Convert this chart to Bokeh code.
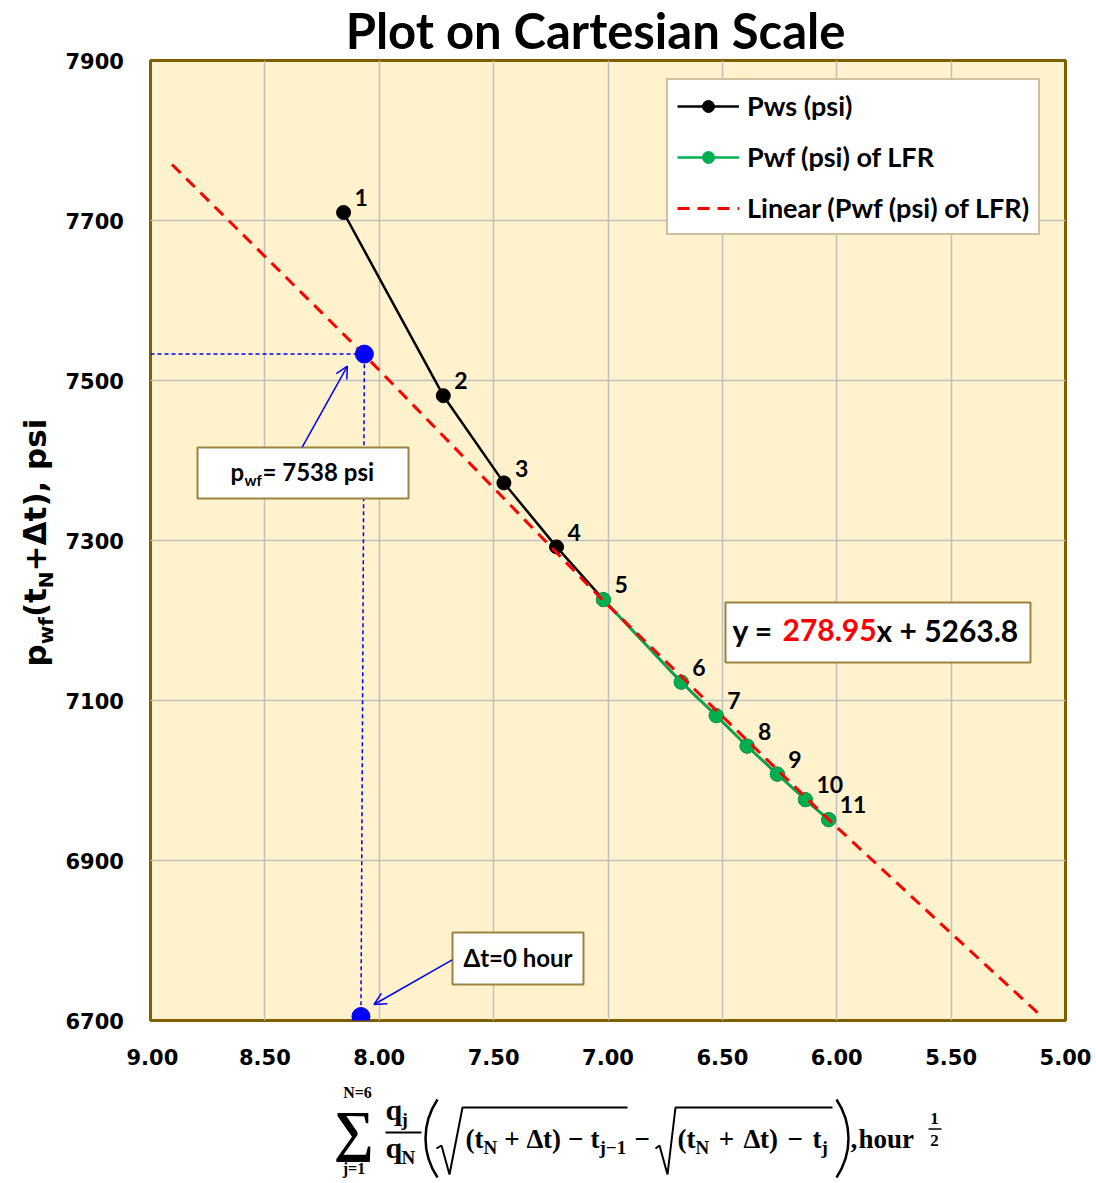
import math
from bokeh.plotting import figure
from bokeh.models import (Range1d, Legend, LegendItem, Label, Arrow, OpenHead,
                          FixedTicker, NumeralTickFormatter)
from bokeh.layouts import column, row
from bokeh.core.properties import value
from bokeh.embed import file_html
from bokeh.resources import INLINE

# ---------------- data ----------------
point_ids = ["1", "2", "3", "4", "5", "6", "7", "8", "9", "10", "11"]
pws_x = [8.156, 7.720, 7.455, 7.225, 7.020, 6.680, 6.527, 6.392, 6.260, 6.137, 6.035]
pws_y = [7710, 7481, 7372, 7292, 7226, 7123, 7081, 7043, 7008, 6976, 6951]
lfr_x = [7.020, 6.680, 6.527, 6.392, 6.260, 6.137, 6.035]
lfr_y = [7226, 7123, 7081, 7043, 7008, 6976, 6951]
trend_x = [8.906, 8.065, 7.025, 6.035, 5.500, 5.100]
trend_y = [7770, 7532, 7226, 6951, 6809, 6704]
marker_x = [8.065, 8.080]          # p_wf read-off point, dt = 0 point
marker_y = [7533, 6705]
x_ticks = [9.0, 8.5, 8.0, 7.5, 7.0, 6.5, 6.0, 5.5, 5.0]
y_ticks = [6700, 6900, 7100, 7300, 7500, 7700, 7900]
slope_txt = "278.95"
intercept_txt = "5263.8"
pwf_txt = "7538"

# ---------------- page geometry ----------------
PAGE_W = 1096
FL, FT, FW, FH = 150, 60, 915, 960           # frame position on the page (px)
LEFT_W = 124               # left strip: y-label + y tick labels
YF_FRAME_W = 58
TOP_H = FT - 1             # title strip height
MAIN_BOTTOM = 60
XL_TOP = FT + FH + MAIN_BOTTOM   # 1080
XL_H = 100
X0, X1, Y0, Y1 = 9.0, 5.0, 6700, 7900
K = 0.38                   # alphabetic-baseline correction (fraction of font size)
TITLE_DX = -28.5           # measured offset of the title strip


def dx(X):
    return X0 + (X - FL) / FW * (X1 - X0)


def dy(Y):
    return Y1 - (Y - FT) / FH * (Y1 - Y0)


def pxx(x):
    return FL + (x - X0) / (X1 - X0) * FW


def pxy(y):
    return FT + (Y1 - y) / (Y1 - Y0) * FH


GOLD = "#9C8440"
BLUE = "#0000FF"
GREEN = "#00B050"


def aux_fig(w, h):
    f = figure(frame_width=w, frame_height=h, x_range=Range1d(0, w),
               y_range=Range1d(0, h), min_border=0, toolbar_location=None,
               output_backend="svg", background_fill_color="white",
               border_fill_color="white", outline_line_color=None)
    f.axis.visible = False
    f.grid.visible = False
    return f


def style_axis(ax):
    ax.major_label_text_font = "DejaVu Sans"
    ax.major_label_text_font_style = "bold"
    ax.major_label_text_font_size = "21px"
    ax.major_label_text_color = "black"
    ax.major_tick_line_color = None
    ax.major_tick_out = 0
    ax.major_tick_in = 0
    ax.minor_tick_line_color = None
    ax.axis_line_color = None


# ---------------- main plot ----------------
p = figure(frame_width=FW, frame_height=FH,
           x_range=Range1d(X0, X1), y_range=Range1d(Y0, Y1),
           min_border_left=FL - LEFT_W - 2, min_border_right=PAGE_W - FL - FW + 2,
           min_border_top=FT - TOP_H, min_border_bottom=MAIN_BOTTOM,
           toolbar_location=None, output_backend="svg",
           background_fill_color="#FFF2CC", border_fill_color="white",
           outline_line_color="#7F6000", outline_line_width=3)

p.xaxis.ticker = FixedTicker(ticks=x_ticks)
p.xaxis.formatter = NumeralTickFormatter(format="0.00")
p.yaxis.visible = False
p.xgrid.ticker = FixedTicker(ticks=x_ticks)
p.ygrid.ticker = FixedTicker(ticks=y_ticks)
p.grid.grid_line_color = "#BFBFBF"
p.grid.grid_line_width = 1.5
style_axis(p.xaxis[0])
p.xaxis.major_label_standoff = 28

# series
l_pws = p.line(pws_x, pws_y, line_color="black", line_width=2.5)
l_lfr = p.line(lfr_x, lfr_y, line_color=GREEN, line_width=2.5)
d_pws = p.scatter(pws_x, pws_y, size=14, color="black")
d_lfr = p.scatter(lfr_x, lfr_y, size=14, color=GREEN)
l_tr = p.line(trend_x, trend_y, line_color="#FF0000", line_width=3, line_dash="12 8")

p.text(pws_x, pws_y, text=point_ids, x_offset=11, y_offset=-6 - K * 23,
       text_font=value("Lato"), text_font_style="bold", text_font_size="23px",
       text_baseline="alphabetic", text_align="left", text_color="black")

# blue read-off lines and points
p.line([X0, marker_x[0], marker_x[1]], [marker_y[0], marker_y[0], marker_y[1]],
       line_color=BLUE, line_width=1.5, line_dash="4 3")
p.scatter(marker_x, marker_y, size=18, color=BLUE)

# callout boxes
p.quad(left=[dx(197), dx(452), dx(725)], right=[dx(408), dx(583), dx(1030)],
       top=[dy(447), dy(932), dy(602)], bottom=[dy(498), dy(984), dy(662)],
       fill_color="white", line_color=GOLD, line_width=2)


def mlabel(X, Y, s, size, color="black", align="left"):
    p.add_layout(Label(x=dx(X), y=dy(Y - K * size), text=s, text_font="Lato",
                       text_font_style="bold", text_font_size=f"{size}px",
                       text_color=color, text_align=align,
                       text_baseline="alphabetic"))


mlabel(230, 480, "p", 24)
mlabel(244, 485, "wf", 15)
mlabel(262, 480, "= " + pwf_txt + " psi", 24)
mlabel(517.5, 966, "\u0394t=0 hour", 24, align="center")
mlabel(732, 641, "y = ", 30)
mlabel(782, 641, slope_txt, 30, color="#FF0000")
mlabel(876, 641, "x + " + intercept_txt, 30)

# arrows
ax0, ay0 = pxx(marker_x[0]), pxy(marker_y[0])
bx0, by0 = pxx(marker_x[1]), pxy(marker_y[1])
p.add_layout(Arrow(x_start=dx(301.7), y_start=dy(446.7),
                   x_end=dx(ax0 - 17), y_end=dy(ay0 + 12),
                   line_color=BLUE, line_width=1.5,
                   end=OpenHead(size=12, line_color=BLUE, line_width=1.5)))
p.add_layout(Arrow(x_start=dx(451.7), y_start=dy(959.3),
                   x_end=dx(bx0 + 13), y_end=dy(by0 - 12),
                   line_color=BLUE, line_width=1.5,
                   end=OpenHead(size=12, line_color=BLUE, line_width=1.5)))

legend = Legend(items=[LegendItem(label="Pws (psi)", renderers=[l_pws, d_pws]),
                       LegendItem(label="Pwf (psi) of LFR", renderers=[l_lfr, d_lfr]),
                       LegendItem(label="Linear (Pwf (psi) of LFR)", renderers=[l_tr])],
                location=(516, 785), margin=0, padding=9, spacing=18,
                glyph_width=62, glyph_height=30, label_height=30,
                label_standoff=8,
                label_text_font="Lato", label_text_font_style="bold",
                label_text_font_size="27px", label_text_color="black",
                border_line_color=GOLD, border_line_width=2,
                background_fill_color="white", background_fill_alpha=1.0)
p.add_layout(legend)

# ---------------- title strip ----------------
TW = PAGE_W - LEFT_W
tf = aux_fig(TW, TOP_H)
tf.text(x=[597.5 - LEFT_W + TITLE_DX], y=[TOP_H - (48.5 - K * 49)],
        text=["Plot on Cartesian Scale"],
        text_font=value("Lato"), text_font_style="bold", text_font_size="49px",
        text_align="center", text_baseline="alphabetic", text_color="black")

# ---------------- left strip: y tick labels + y-axis label ----------------
yf = figure(frame_width=YF_FRAME_W, frame_height=FH,
            x_range=Range1d(0, YF_FRAME_W), y_range=p.y_range,
            y_axis_location="right",
            min_border_left=0, min_border_top=FT, min_border_bottom=MAIN_BOTTOM,
            min_border_right=LEFT_W - YF_FRAME_W,
            toolbar_location=None, output_backend="svg",
            background_fill_color="white", border_fill_color="white",
            outline_line_color=None)
yf.xaxis.visible = False
yf.grid.visible = False
yf.yaxis.ticker = FixedTicker(ticks=y_ticks)
yf.yaxis.formatter = NumeralTickFormatter(format="0")
style_axis(yf.yaxis[0])
yf.yaxis.major_label_standoff = 7

DJB = {"p": .716, "w": .924, "f": .435, "(": .457, ")": .457, "t": .478,
       "N": .837, "+": .838, "\u0394": .774, ",": .380, " ": .348, "s": .595,
       "i": .343}
ypieces = [("p", 31, 0), ("wf", 20, 7), ("(t", 31, 0), ("N", 20, 7),
           ("+\u0394t), psi", 31, 0)]
Ycur = 666
for s, size, shift in ypieces:
    yf.text(x=[46 + shift - K * size], y=[dy(Ycur)], text=[s],
            angle=math.pi / 2,
            text_font=value("DejaVu Sans"), text_font_style="bold",
            text_font_size=f"{size}px", text_align="left",
            text_baseline="alphabetic", text_color="black")
    Ycur -= sum(DJB.get(c, .6) for c in s) * size

# ---------------- x-axis label strip (formula) ----------------
xf = aux_fig(PAGE_W, XL_H)
SH = -2
TB = {"(": .333, ")": .333, "t": .333, "N": .722, " ": .25, "+": .570,
      "\u0394": .612, "\u2212": .570, "j": .333, "1": .5, ",": .25}


def fy(Y):
    return XL_TOP + XL_H - (Y + SH)


def xt(X, Y, s, size, align="left", baseline="alphabetic", style="bold"):
    corr = K * size if baseline == "alphabetic" else 0
    xf.text(x=[X], y=[fy(Y - corr)], text=[s], text_font=value("Liberation Serif"),
            text_font_style=style, text_font_size=f"{size}px",
            text_align=align, text_baseline=baseline, text_color="black")


def xl(xs, ys, w=2.0):
    xf.line(x=xs, y=[fy(v) for v in ys], line_color="black", line_width=w)


def run(x0, base, toks):
    x = x0
    for s, size, d, gap in toks:
        x += gap
        xt(x, base + d, s, size)
        x += sum(TB.get(c, .5) for c in s) * size


def radicand(last_sub, G):
    return [("(", 27, 0, 0), ("t", 27, 0, 0), ("N", 19, 5, 0), ("+", 27, 0, G),
            ("\u0394", 27, 0, G), ("t", 27, 0, 0), (")", 27, 0, 0),
            ("\u2212", 27, 0, G), ("t", 27, 0, G), (last_sub, 19, 5, 0)]


xt(357, 1100, "N=6", 16, align="center")
xt(353.5, 1132, "\u2211", 56, align="center", baseline="middle")
xt(353.5, 1176, "j=1", 16, align="center")
xt(385, 1122, "q", 30)
xt(401, 1128, "j", 19)
xl([385, 421], [1134, 1134])
xt(385, 1160, "q", 30)
xt(401, 1166, "N", 19)
xf.bezier(x0=[437], y0=[fy(1101)], x1=[437], y1=[fy(1179)],
          cx0=[421], cy0=[fy(1125)], cx1=[421], cy1=[fy(1155)],
          line_color="black", line_width=2.5)
xl([436, 441, 449, 462, 627], [1150, 1147, 1176, 1109, 1109])
run(465, 1151, radicand("j\u22121", 7))
xt(634, 1151, "\u2212", 27)
xl([655, 659, 667, 675, 832], [1150, 1147, 1176, 1109, 1109])
run(677, 1151, radicand("j", 9.5))
xf.bezier(x0=[836], y0=[fy(1101)], x1=[836], y1=[fy(1179)],
          cx0=[852], cy0=[fy(1125)], cx1=[852], cy1=[fy(1155)],
          line_color="black", line_width=2.5)
xt(850, 1151, ",", 27)
xt(858, 1151, "hour", 27)
xt(934, 1126, "1", 17, align="center")
xl([928, 941], [1130.5, 1130.5], 1.5)
xt(934, 1148, "2", 17, align="center")

layout = column(row(yf, column(tf, p, spacing=0), spacing=0), xf, spacing=0)
open("out.html", "w").write(file_html(layout, INLINE))
